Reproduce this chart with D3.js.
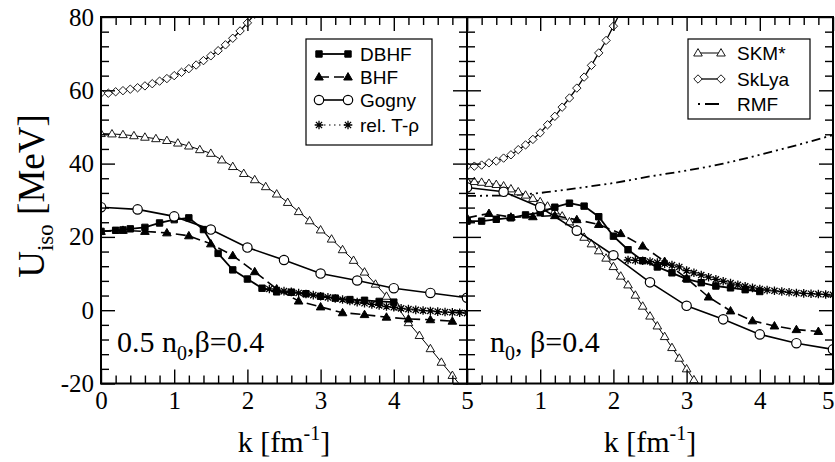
<!DOCTYPE html>
<html><head><meta charset="utf-8">
<script src="https://cdn.jsdelivr.net/npm/d3@7"></script>
<style>body{margin:0;background:#fff}svg{display:block}</style>
</head><body><svg id="c" width="835" height="462"></svg>
<script>
// ---------- data: left panel (0.5 n0, beta=0.4) ----------
const skmK_L = [0,0.15,0.3,0.45,0.6,0.75,0.9,1.05,1.2,1.35,1.5,1.65,1.8,1.95,2.1,2.25,2.4,2.55,2.7,2.85,3.0,3.15,3.3,3.45,3.6,3.75,3.9,4.05,4.2,4.35,4.5,4.65,4.8,4.95];
const skmU_L = [48.2,48.1,47.9,47.6,47.2,46.8,46.3,45.6,44.8,43.8,42.8,41.0,39.2,37.3,35.6,33.7,31.7,29.4,26.9,24.4,21.9,19.4,16.5,13.6,10.4,7.1,3.8,0.9,-3.4,-6.9,-10.5,-14.2,-17.8,-21.5];
const slyK_L = [0,0.1,0.2,0.3,0.4,0.5,0.6,0.7,0.8,0.9,1.0,1.1,1.2,1.3,1.4,1.5,1.6,1.7,1.8,1.9,2.0,2.1];
const slyU_L = [59.2,59.2,59.6,59.9,60.3,60.7,61.2,61.8,62.5,63.2,64.0,64.9,65.9,66.9,68.1,69.4,70.8,72.4,74.2,76.2,78.4,80.8];
const gogK_L = [0,0.5,1,1.5,2,2.5,3,3.5,4,4.5,5];
const gogU_L = [28.1,27.5,25.6,22.0,17.1,13.7,10.0,8.1,6.0,4.7,3.4];
const dbhfK_L = [0,0.2,0.3,0.4,0.6,0.8,1.0,1.2,1.4,1.6,1.8,2.0,2.2,2.4,2.6,2.8,3.0,3.2,3.4,3.6,3.8,4.0];
const dbhfU_L = [21.5,21.8,21.9,22.2,22.6,23.8,24.7,25.2,22.0,15.5,11.0,8.5,6.0,5.0,4.9,4.5,3.8,3.3,2.9,2.7,2.4,2.2];
const bhfK_L = [0,0.3,0.6,0.9,1.2,1.5,1.8,2.1,2.4,2.7,3.0,3.3,3.6,3.9,4.2,4.5,4.8];
const bhfU_L = [21.5,21.8,21.5,21.1,20.3,18.1,14.9,10.5,5.8,2.5,0.9,-0.7,-1.2,-1.9,-2.4,-2.6,-3.0];
const trK_L = [2.3,2.4,2.5,2.6,2.7,2.8,2.9,3.0,3.1,3.2,3.3,3.4,3.5,3.6,3.7,3.8,3.9,4.0,4.1,4.2,4.3,4.4,4.5,4.6,4.7,4.8,4.9,5.0];
const trU_L = [5.8,5.5,5.2,5.0,4.7,4.4,4.1,3.8,3.5,3.2,2.9,2.5,2.2,1.9,1.6,1.3,1.0,0.8,0.5,0.3,0.1,-0.1,-0.2,-0.4,-0.5,-0.6,-0.7,-0.8];

// ---------- data: right panel (n0, beta=0.4) ----------
const skmK_R = [0,0.1,0.2,0.3,0.4,0.5,0.6,0.7,0.8,0.9,1.0,1.1,1.2,1.3,1.4,1.5,1.6,1.7,1.8,1.9,2.0,2.1,2.2,2.3,2.4,2.5,2.6,2.7,2.8,2.9,3.0,3.1,3.2];
const skmU_R = [35.3,35.1,34.9,34.6,34.3,33.9,33.1,32.3,31.4,30.5,29.6,28.4,27.1,25.7,24.1,22.0,19.9,18.1,16.2,14.2,11.9,9.3,6.9,4.1,1.1,-1.6,-4.3,-7.2,-10.2,-13.1,-16.0,-19.0,-22.0];
const slyK_R = [0,0.1,0.2,0.3,0.4,0.5,0.6,0.7,0.8,0.9,1.0,1.1,1.2,1.3,1.4,1.5,1.6,1.7,1.8,1.9,2.0,2.1];
const slyU_R = [39.3,39.3,39.6,40.2,40.7,41.5,42.4,43.8,45.1,46.6,48.4,50.6,52.9,55.4,57.9,60.6,63.6,66.8,70.2,73.6,77.5,81.5];
const gogK_R = [0,0.5,1,1.5,2,2.5,3,3.5,4,4.5,5];
const gogU_R = [33.5,32.3,28.1,21.7,15.0,7.6,1.2,-2.5,-6.6,-9.0,-10.7];
const dbhfK_R = [0,0.2,0.4,0.6,0.8,1.0,1.2,1.4,1.6,1.8,2.0,2.2,2.4,2.6,2.8,3.0,3.2,3.4,3.6,3.8,4.0];
const dbhfU_R = [24.3,24.3,24.8,25.2,26.0,26.6,28.1,29.2,28.4,25.5,20.2,16.5,13.5,11.8,10.2,8.5,7.5,6.6,6.1,5.6,5.1];
const bhfK_R = [0,0.3,0.6,0.9,1.2,1.5,1.8,2.1,2.4,2.7,3.0,3.3,3.6,3.9,4.2,4.5,4.8];
const bhfU_R = [25.2,26.4,25.4,25.5,25.8,24.7,23.4,20.9,17.5,13.3,8.7,3.6,-0.2,-2.9,-4.3,-5.3,-5.8];
const trK_R = [2.2,2.3,2.4,2.5,2.6,2.7,2.8,2.9,3.0,3.1,3.2,3.3,3.4,3.5,3.6,3.7,3.8,3.9,4.0,4.1,4.2,4.3,4.4,4.5,4.6,4.7,4.8,4.9,5.0];
const trU_R = [13.7,13.6,13.5,13.3,13.0,12.7,12.3,11.8,10.8,10.2,9.6,9.0,8.4,7.9,7.4,6.9,6.5,6.1,5.8,5.5,5.3,5.1,4.9,4.7,4.6,4.5,4.4,4.3,4.2];
const rmfK_R = [0,0.5,1.0,1.5,2.0,2.5,3.0,3.5,4.0,4.5,5.0];
const rmfU_R = [31.2,31.3,32.0,33.3,34.7,36.5,38.1,40.0,42.4,45.0,47.8];

// ---------- ticks / labels ----------
const xMajorL = [0,1,2,3,4,5];
const xMajorR = [1,2,3,4,5];
const yMajor = [-20,0,20,40,60,80];
const legendL = ["DBHF","BHF","Gogny","rel. T-ρ"];
const legendR = ["SKM*","SkLya","RMF"];

// ---------- drawing ----------
const svg = d3.select('#c');
const serif = "'Liberation Serif','Times New Roman',serif";
const sans = "'Liberation Sans',Arial,sans-serif";
const Y0 = 17, Y1 = 383.5;
const y = d3.scaleLinear().domain([-20,80]).range([Y1,Y0]);
const xL = d3.scaleLinear().domain([0,5]).range([101,467]);
const xR = d3.scaleLinear().domain([0,5]).range([467,833]);

const defs = svg.append('defs');
[['clipL',xL],['clipR',xR]].forEach(([id,x])=>{
  defs.append('clipPath').attr('id',id).append('rect')
    .attr('x',x.range()[0]).attr('y',Y0).attr('width',x.range()[1]-x.range()[0]).attr('height',Y1-Y0);
});

const shapes = {
  square: 'M-3.2,-3.2h6.4v6.4h-6.4z',
  tri: 'M0,-4.4L4.3,3L-4.3,3Z',
  diamond: 'M0,-4.2L4.2,0L0,4.2L-4.2,0Z',
  star: 'M-4.3,0H4.3M0,-4.3V4.3M-3.1,-3.1L3.1,3.1M-3.1,3.1L3.1,-3.1'
};
const styles = {
  dbhf: {shape:'square', fill:'#000', stroke:'#000', sw:1},
  bhf: {shape:'tri', fill:'#000', stroke:'#000', sw:1},
  gog: {shape:'circle', fill:'#fff', stroke:'#000', sw:1.2},
  tr: {shape:'star', fill:'none', stroke:'#000', sw:1.3},
  skm: {shape:'tri', fill:'#fff', stroke:'#000', sw:0.9},
  sly: {shape:'diamond', fill:'#fff', stroke:'#000', sw:0.9}
};
function marker(g, st, px, py){
  if(st.shape==='circle'){
    g.append('circle').attr('cx',px).attr('cy',py).attr('r',4.7)
      .attr('fill',st.fill).attr('stroke',st.stroke).attr('stroke-width',st.sw);
  } else {
    g.append('path').attr('d',shapes[st.shape]).attr('transform',`translate(${px},${py})`)
      .attr('fill',st.fill).attr('stroke',st.stroke).attr('stroke-width',st.sw);
  }
}
function series(x, clip, ks, us, style, dash, lw, curve){
  const g = svg.append('g').attr('clip-path',`url(#${clip})`);
  const pts = ks.map((k,i)=>({k,u:us[i]}));
  const line = d3.line().x(d=>x(d.k)).y(d=>y(d.u)).curve(curve||d3.curveLinear);
  g.append('path').datum(pts).attr('d',line).attr('fill','none').attr('stroke','#000')
    .attr('stroke-width',lw||1.6).attr('stroke-dasharray',dash||null);
  if(style) pts.forEach(d=>marker(g, styles[style], x(d.k), y(d.u)));
}

// left panel
series(xL,'clipL',slyK_L,slyU_L,'sly',null,1.3);
series(xL,'clipL',skmK_L,skmU_L,'skm',null,1.0);
series(xL,'clipL',trK_L,trU_L,'tr','1.5,2.5',1.2);
series(xL,'clipL',bhfK_L,bhfU_L,'bhf','10,5',1.6);
series(xL,'clipL',dbhfK_L,dbhfU_L,'dbhf',null,1.8);
series(xL,'clipL',gogK_L,gogU_L,'gog',null,1.6);
// right panel
series(xR,'clipR',rmfK_R,rmfU_R,null,'9,4,2,4,2,4',1.8,d3.curveMonotoneX);
series(xR,'clipR',slyK_R,slyU_R,'sly',null,1.3);
series(xR,'clipR',skmK_R,skmU_R,'skm',null,1.0);
series(xR,'clipR',trK_R,trU_R,'tr','1.5,2.5',1.2);
series(xR,'clipR',bhfK_R,bhfU_R,'bhf','10,5',1.6);
series(xR,'clipR',dbhfK_R,dbhfU_R,'dbhf',null,1.8);
series(xR,'clipR',gogK_R,gogU_R,'gog',null,1.6);

// axes
const xMinor = d3.range(0,5.001,0.2).map(v=>+v.toFixed(1)).filter(v=>!xMajorL.includes(v));
const yMinor = d3.range(-20,80.001,4).filter(v=>!yMajor.includes(v));
function styleAxis(g){ g.select('.domain').remove(); g.selectAll('line').attr('stroke','#000').attr('stroke-width',1.4); }
function xAxes(x, labels, isRight){
  const gb = svg.append('g').attr('transform',`translate(0,${Y1})`)
    .call(d3.axisBottom(x).tickValues(xMajorL).tickSize(-14).tickPadding(8).tickFormat(d=>labels.includes(d)?d:''));
  gb.call(styleAxis);
  gb.selectAll('text').attr('font-family',serif).attr('font-size',25).attr('fill','#000');
  if(isRight) gb.selectAll('text').filter(d=>d===5).attr('text-anchor','end').attr('dx',1);
  svg.append('g').attr('transform',`translate(0,${Y1})`).call(d3.axisBottom(x).tickValues(xMinor).tickSize(-8).tickFormat('')).call(styleAxis);
  svg.append('g').attr('transform',`translate(0,${Y0})`).call(d3.axisTop(x).tickValues(xMajorL).tickSize(-14).tickFormat('')).call(styleAxis);
  svg.append('g').attr('transform',`translate(0,${Y0})`).call(d3.axisTop(x).tickValues(xMinor).tickSize(-8).tickFormat('')).call(styleAxis);
}
xAxes(xL, xMajorL, false);
xAxes(xR, xMajorR, true);
function yAxis(xpos, dir, labels){
  const ax = dir==='left'?d3.axisLeft:d3.axisRight;
  const g = svg.append('g').attr('transform',`translate(${xpos},0)`)
    .call(ax(y).tickValues(yMajor).tickSize(-14).tickPadding(7).tickFormat(labels?d=>d:''));
  g.call(styleAxis);
  g.selectAll('text').attr('font-family',serif).attr('font-size',25).attr('fill','#000');
  svg.append('g').attr('transform',`translate(${xpos},0)`).call(ax(y).tickValues(yMinor).tickSize(-8).tickFormat('')).call(styleAxis);
}
yAxis(101,'left',true);
yAxis(467,'right',false);
yAxis(467,'left',false);
yAxis(833,'right',false);

// frames
[[101,467],[467,833]].forEach(([a,b])=>{
  svg.append('rect').attr('x',a).attr('y',Y0).attr('width',b-a).attr('height',Y1-Y0)
    .attr('fill','none').attr('stroke','#000').attr('stroke-width',2);
});

// axis titles
const yl = svg.append('text').attr('transform','translate(44,196) rotate(-90)')
  .attr('text-anchor','middle').attr('font-family',serif).attr('font-size',37).attr('fill','#000');
yl.append('tspan').text('U');
yl.append('tspan').text('iso').attr('font-size',23).attr('dy',9);
yl.append('tspan').text(' [MeV]').attr('dy',-9);
[284,650].forEach(cx=>{
  const t = svg.append('text').attr('x',cx).attr('y',452).attr('text-anchor','middle')
    .attr('font-family',serif).attr('font-size',30).attr('fill','#000');
  t.append('tspan').text('k [fm');
  t.append('tspan').text('-1').attr('font-size',20).attr('dy',-12);
  t.append('tspan').text(']').attr('dy',12);
});

// panel annotations
function annot(x0, pre, post){
  const t = svg.append('text').attr('x',x0).attr('y',352).attr('font-family',serif).attr('font-size',30).attr('fill','#000');
  t.append('tspan').text(pre);
  t.append('tspan').text('0').attr('font-size',20).attr('dy',8);
  t.append('tspan').text(post).attr('dy',-8);
}
annot(117,'0.5 n',',β=0.4');
annot(490,'n',', β=0.4');

// legends
function legendBox(x0,y0,w,h){
  svg.append('rect').attr('x',x0).attr('y',y0).attr('width',w).attr('height',h)
    .attr('fill','#fff').attr('stroke','#000').attr('stroke-width',1.2);
}
legendBox(306,39,126,106);
const legL = [
  {name:legendL[0], st:'dbhf', dash:null, lw:1.8, yy:54},
  {name:legendL[1], st:'bhf', dash:'10,5', lw:1.6, yy:77},
  {name:legendL[2], st:'gog', dash:null, lw:1.6, yy:100},
  {name:legendL[3], st:'tr', dash:'1.5,3.5', lw:1.2, yy:125}
];
legL.forEach(e=>{
  svg.append('line').attr('x1',319).attr('x2',348).attr('y1',e.yy).attr('y2',e.yy)
    .attr('stroke','#000').attr('stroke-width',e.lw).attr('stroke-dasharray',e.dash);
  const g = svg.append('g');
  marker(g, styles[e.st], 319, e.yy); marker(g, styles[e.st], 348, e.yy);
  svg.append('text').attr('x',360).attr('y',e.yy+7).attr('font-family',sans).attr('font-size',19).attr('fill','#000').text(e.name);
});
legendBox(688,39,122,80);
const legR = [
  {name:legendR[0], st:'skm', dash:null, lw:1.0, yy:53},
  {name:legendR[1], st:'sly', dash:null, lw:1.3, yy:79},
  {name:legendR[2], st:null, dash:'2,5,14,4', lw:1.8, yy:104}
];
legR.forEach(e=>{
  svg.append('line').attr('x1',698).attr('x2',721).attr('y1',e.yy).attr('y2',e.yy)
    .attr('stroke','#000').attr('stroke-width',e.lw).attr('stroke-dasharray',e.dash);
  if(e.st){ const g = svg.append('g'); marker(g, styles[e.st], 698, e.yy); marker(g, styles[e.st], 721, e.yy); }
  svg.append('text').attr('x',737).attr('y',e.yy+7).attr('font-family',sans).attr('font-size',19).attr('fill','#000').text(e.name);
});
</script></body></html>
